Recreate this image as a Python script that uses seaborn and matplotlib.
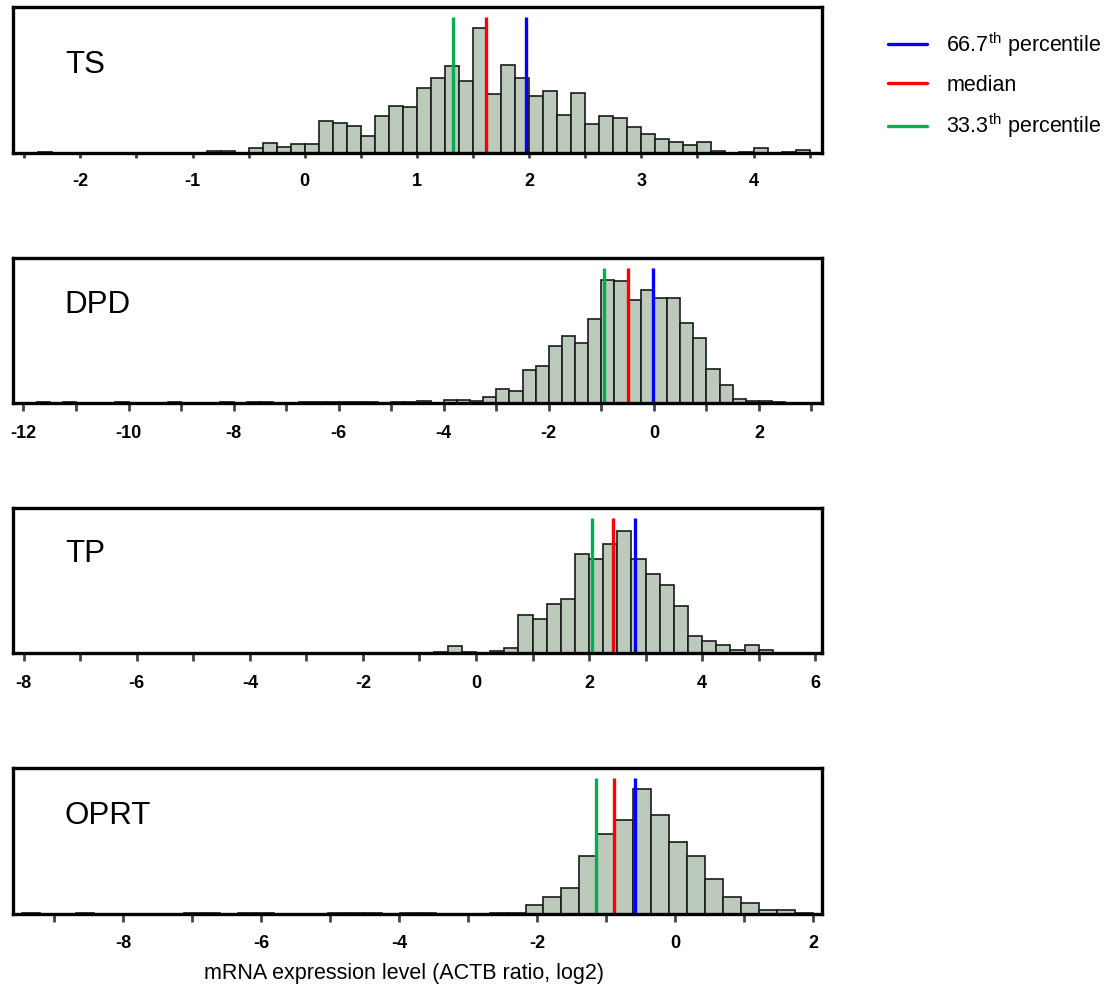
import numpy as np
import pandas as pd
import matplotlib.pyplot as plt
import seaborn as sns
from matplotlib.ticker import MultipleLocator
from matplotlib.lines import Line2D

# bar heights (arbitrary count units, no y axis shown)
genes = ['TS', 'DPD', 'TP', 'OPRT']

ts_start, ts_width = -2.375, 0.125
ts_counts = [1, 0, 0, 0, 0, 0, 0, 0, 0, 0, 0, 0, 2, 2, 0, 5, 10, 6, 9, 9,
             32, 30, 27, 17, 37, 47, 46, 65, 75, 87, 72, 125, 59, 88, 75,
             57, 62, 38, 60, 29, 37, 35, 26, 19, 14, 11, 8, 11, 2, 0, 1, 5, 0, 1, 3]

dpd_start, dpd_width = -11.75, 0.25
dpd_counts = [1, 0, 1, 0, 0, 0, 1, 0, 0, 0, 1, 0, 0, 0, 1, 0, 1, 1, 0, 0,
              1, 1, 1, 1, 1, 1, 0, 1, 1, 2, 0, 3, 3, 2, 6, 14, 12, 33, 37,
              57, 67, 60, 85, 124, 123, 104, 114, 106, 106, 81, 65, 34, 18, 4, 2, 2, 1]

tp_start, tp_width = -0.75, 0.25
tp_counts = [1, 7, 1, 0, 2, 5, 38, 34, 49, 54, 100, 95, 110, 123, 95, 80,
             68, 47, 17, 12, 8, 3, 8, 3]

oprt_start, oprt_width = -9.468, 0.2607
oprt_counts = [1, 0, 0, 1, 0, 0, 0, 0, 0, 1, 1, 0, 1, 1, 0, 0, 0, 1, 1, 1,
               0, 1, 1, 0, 0, 0, 1, 1, 9, 17, 26, 58, 80, 94, 125, 99, 72,
               58, 35, 17, 11, 4, 4, 1]

# 33.3th percentile, median, 66.7th percentile
ts_pct = [1.32, 1.62, 1.97]
dpd_pct = [-0.95, -0.50, -0.01]
tp_pct = [2.05, 2.42, 2.81]
oprt_pct = [-1.14, -0.88, -0.58]

ts_ticks = [-2, -1, 0, 1, 2, 3, 4]
dpd_ticks = [-12, -10, -8, -6, -4, -2, 0, 2]
tp_ticks = [-8, -6, -4, -2, 0, 2, 4, 6]
oprt_ticks = [-8, -6, -4, -2, 0, 2]

legend_labels = ['66.7$^{\\rm th}$ percentile', 'median', '33.3$^{\\rm th}$ percentile']
pct_colors = ['#00b050', '#ff0000', '#0000ff']   # 33.3, median, 66.7
xlabel = 'mRNA expression level (ACTB ratio, log2)'

sns.set_style('white')
plt.rcParams['font.family'] = ['Liberation Sans', 'DejaVu Sans']
plt.rcParams['mathtext.fontset'] = 'custom'
plt.rcParams['mathtext.rm'] = 'Liberation Sans'
plt.rcParams['text.color'] = 'black'
plt.rcParams['xtick.labelcolor'] = 'black'

# name, bins, percentiles, ticks, minor step, xlim, (bottom, height), label y, tick length
panels = [
    (genes[0], ts_start, ts_width, ts_counts, ts_pct, ts_ticks, 0.5, (-2.6, 4.61), (0.8462, 0.1467), 0.545, 3.5),
    (genes[1], dpd_start, dpd_width, dpd_counts, dpd_pct, dpd_ticks, 1, (-12.2, 3.2), (0.5945, 0.1454), 0.62, 6),
    (genes[2], tp_start, tp_width, tp_counts, tp_pct, tp_ticks, 1, (-8.19, 6.12), (0.3427, 0.1454), 0.625, 6),
    (genes[3], oprt_start, oprt_width, oprt_counts, oprt_pct, oprt_ticks, 1, (-9.6, 2.13), (0.0796, 0.1467), 0.62, 5.5),
]

fig = plt.figure(figsize=(11.1, 9.93), dpi=100)
for name, start, width, counts, pct, ticks, minor, xlim, (bot, h), ly, tlen in panels:
    ax = fig.add_axes([0.0117, bot, 0.7288, h])
    n = len(counts)
    edges = start + width * np.arange(n + 1)
    df = pd.DataFrame({'value': (edges[:-1] + edges[1:]) / 2, 'count': counts})
    sns.histplot(data=df, x='value', weights='count', bins=n,
                 binrange=(edges[0], edges[-1]), color='#bccabb',
                 edgecolor='#1a1a1a', linewidth=1.2, alpha=1, ax=ax)
    for x, c in zip(pct, pct_colors):
        ax.axvline(x, ymin=0, ymax=0.935, color=c, lw=2.4, solid_capstyle='butt')
    ax.set_xlim(*xlim)
    ax.set_ylim(0, 146)
    ax.set_yticks([])
    ax.set_ylabel('')
    ax.set_xlabel('')
    ax.set_xticks(ticks, labels=[str(t) for t in ticks], fontweight='bold', fontsize=13)
    ax.xaxis.set_minor_locator(MultipleLocator(minor))
    ax.tick_params(axis='x', which='both', direction='out', length=tlen, width=2,
                   color='#444444', bottom=True, pad=11 if tlen < 4 else 10)
    for s in ax.spines.values():
        s.set_linewidth(2.4)
        s.set_color('black')
    ax.text(0.064, ly, name, transform=ax.transAxes, fontsize=22.5, ha='left', va='baseline')

fig.text(404 / 1110, 1 - 973 / 993, xlabel, ha='center', va='center', fontsize=15.5)

handles = [Line2D([], [], color=c, lw=2.4) for c in pct_colors[::-1]]
fig.legend(handles, legend_labels, loc='upper left', bbox_to_anchor=(888 / 1110, 1 - 30 / 993),
           frameon=False, fontsize=15.5, handlelength=1.8, handletextpad=0.9,
           labelspacing=0.75, borderpad=0, borderaxespad=0)

plt.savefig('out.png', dpi=100)
